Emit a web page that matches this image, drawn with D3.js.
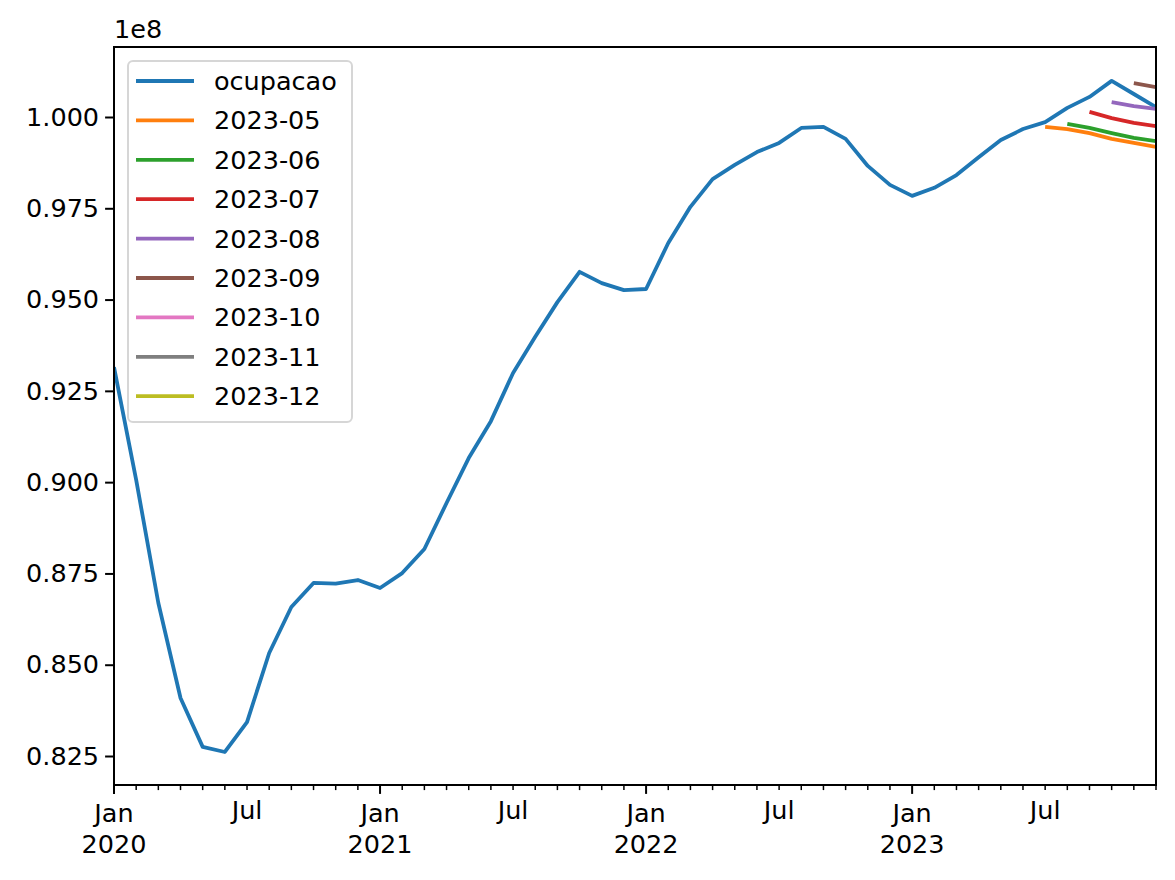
<!DOCTYPE html>
<html>
<head>
<meta charset="utf-8">
<script src="https://d3js.org/d3.v7.min.js"></script>
<style>
  body { margin: 0; background: #fff; }
  svg { font-family: "DejaVu Sans", sans-serif; }
</style>
</head>
<body>
<div id="chart"></div>
<script>
// monthly series, values in units of 1e8
var firstMonth = [2020, 1];
var ocupacao = [
  0.9315, 0.9006, 0.8669, 0.8409, 0.8275, 0.8261, 0.8343, 0.8532, 0.8658, 0.8724, 0.8722, 0.8732,
  0.8710, 0.8751, 0.8817, 0.8943, 0.9066, 0.9167, 0.9299, 0.9398, 0.9493, 0.9576, 0.9545, 0.9526,
  0.9529, 0.9655, 0.9754, 0.9830, 0.9869, 0.9904, 0.9929, 0.9970, 0.9973, 0.9940, 0.9866, 0.9814,
  0.9784, 0.9806, 0.9841, 0.9890, 0.9937, 0.9967, 0.9986, 1.0025, 1.0055, 1.0099, 1.0063, 1.0027
];

// forecasts: name, first month shown, values
var forecastNames = ["2023-05", "2023-06", "2023-07", "2023-08", "2023-09", "2023-10", "2023-11", "2023-12"];
var forecastStarts = ["2023-07", "2023-08", "2023-09", "2023-10", "2023-11", "2024-01", "2024-01", "2024-01"];
var f2023_05 = [0.9973, 0.9967, 0.9956, 0.9940, 0.9929, 0.9918];
var f2023_06 = [0.9981, 0.9970, 0.9956, 0.9943, 0.9934];
var f2023_07 = [1.0014, 0.9997, 0.9984, 0.9975];
var f2023_08 = [1.0041, 1.0030, 1.0022];
var f2023_09 = [1.0093, 1.0082];
var f2023_10 = [];
var f2023_11 = [];
var f2023_12 = [];
var forecastValues = [f2023_05, f2023_06, f2023_07, f2023_08, f2023_09, f2023_10, f2023_11, f2023_12];

var yTicks = [0.825, 0.850, 0.875, 0.900, 0.925, 0.950, 0.975, 1.000];
var colors = ["#1f77b4", "#ff7f0e", "#2ca02c", "#d62728", "#9467bd", "#8c564b", "#e377c2", "#7f7f7f", "#bcbd22"];
var monthNames = ["Jan","Feb","Mar","Apr","May","Jun","Jul","Aug","Sep","Oct","Nov","Dec"];
</script>
<script>
  var W = 1175, H = 880;
  var margin = {top: 47, right: 19, bottom: 95, left: 114},
      width = W - margin.left - margin.right,
      height = H - margin.top - margin.bottom;

  function monthIndex(s) {
    var p = s.split("-");
    return (+p[0] - firstMonth[0]) * 12 + (+p[1] - firstMonth[1]);
  }

  var svg = d3.select("#chart").append("svg")
      .attr("width", W).attr("height", H);

  var g = svg.append("g")
      .attr("transform", "translate(" + margin.left + "," + margin.top + ")");

  var x = d3.scaleLinear()
      .domain([0, ocupacao.length - 1])
      .range([0, width]);

  var y = d3.scaleLinear()
      .domain([0.81706, 1.01917])
      .range([height, 0]);

  g.append("clipPath").attr("id", "clip")
    .append("rect").attr("width", width).attr("height", height);

  var line = d3.line()
      .x(function (d) { return x(d.i); })
      .y(function (d) { return y(d.v); });

  var lines = g.append("g").attr("clip-path", "url(#clip)");

  lines.append("path")
      .datum(ocupacao.map(function (v, i) { return {i: i, v: v}; }))
      .attr("d", line)
      .attr("fill", "none")
      .attr("stroke", colors[0])
      .attr("stroke-width", 3.8)
      .attr("stroke-linejoin", "round");

  forecastValues.forEach(function (vals, k) {
    if (!vals.length) return;
    var s = monthIndex(forecastStarts[k]);
    lines.append("path")
        .datum(vals.map(function (v, j) { return {i: s + j, v: v}; }))
        .attr("d", line)
        .attr("fill", "none")
        .attr("stroke", colors[k + 1])
        .attr("stroke-width", 3.8)
        .attr("stroke-linejoin", "round");
  });

  // y axis
  var yAxis = d3.axisLeft(y).tickValues(yTicks)
      .tickFormat(d3.format(".3f")).tickSize(8.9).tickPadding(6);
  var ya = g.append("g").call(yAxis);
  ya.select(".domain").remove();
  ya.selectAll("line").attr("stroke", "#000").attr("stroke-width", 2);
  ya.selectAll("text").attr("font-size", "25.5px").attr("fill", "#000")
    .attr("font-family", "DejaVu Sans");

  // x axis: monthly minor ticks, major at January
  var months = d3.range(0, ocupacao.length);
  var xa = g.append("g").attr("transform", "translate(0," + height + ")");
  xa.selectAll("line.tk").data(months).enter().append("line")
      .attr("x1", function (d) { return x(d); })
      .attr("x2", function (d) { return x(d); })
      .attr("y1", 0)
      .attr("y2", function (d) { return d % 12 === 0 ? 8.9 : 5.1; })
      .attr("stroke", "#000")
      .attr("stroke-width", function (d) { return d % 12 === 0 ? 2 : 1.5; });

  var labeled = months.filter(function (d) { return d % 6 === 0; });
  var lab = xa.selectAll("text.lb").data(labeled).enter().append("text")
      .attr("text-anchor", "middle")
      .attr("font-size", "25.5px")
      .attr("font-family", "DejaVu Sans")
      .attr("fill", "#000")
      .attr("transform", function (d) { return "translate(" + x(d) + ",0)"; });
  lab.append("tspan").attr("x", 0)
      .attr("y", function (d) { return d % 12 === 0 ? 37 : 34; })
      .text(function (d) { return monthNames[(d + firstMonth[1] - 1) % 12]; });
  lab.filter(function (d) { return d % 12 === 0; })
    .append("tspan").attr("x", 0).attr("y", 68)
      .text(function (d) { return firstMonth[0] + Math.floor(d / 12); });

  // frame
  g.append("rect").attr("width", width).attr("height", height)
      .attr("fill", "none").attr("stroke", "#000").attr("stroke-width", 2);

  // offset text
  svg.append("text").attr("x", margin.left).attr("y", 38)
      .attr("font-size", "25.5px").attr("fill", "#000").text("1e8");

  // legend
  var legNames = ["ocupacao"].concat(forecastNames);
  var leg = svg.append("g").attr("transform", "translate(128,61)");
  leg.append("rect").attr("width", 224).attr("height", 361)
      .attr("rx", 5).attr("fill", "#fff").attr("fill-opacity", 0.8)
      .attr("stroke", "#d6d6d6").attr("stroke-width", 2);
  var items = leg.selectAll("g.it").data(legNames).enter().append("g")
      .attr("transform", function (d, i) { return "translate(0," + (20 + i * 39.4) + ")"; });
  items.append("line").attr("x1", 8).attr("x2", 66)
      .attr("stroke", function (d, i) { return colors[i]; })
      .attr("stroke-width", 3.8);
  items.append("text").attr("x", 86).attr("y", 9)
      .attr("font-size", "25.5px").attr("fill", "#000")
      .text(function (d) { return d; });
</script>
</body>
</html>
